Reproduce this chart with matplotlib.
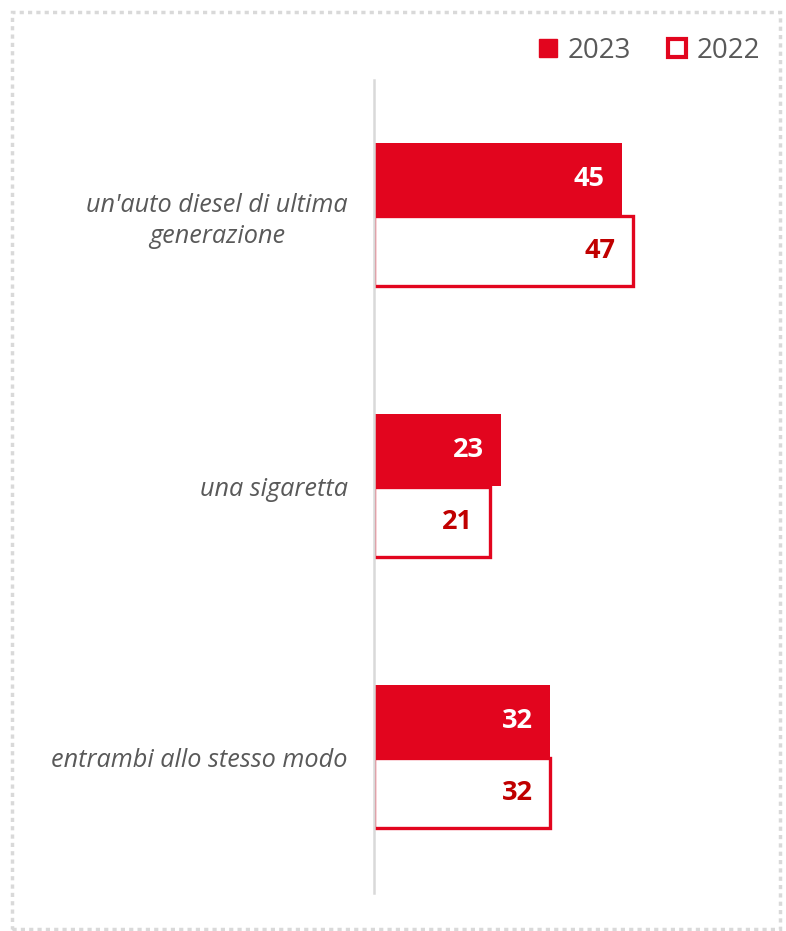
import matplotlib.pyplot as plt
from matplotlib.patches import Rectangle
from matplotlib.lines import Line2D

categories = ["un'auto diesel di ultima\ngenerazione", "una sigaretta", "entrambi allo stesso modo"]
vals_2023 = [45, 23, 32]
vals_2022 = [47, 21, 32]
series = ["2023", "2022"]

red = '#E2051E'
dark_red = '#C00000'
grey_txt = '#595959'

plt.rcParams['font.family'] = ['Open Sans', 'DejaVu Sans']

W, H = 786, 931
fig = plt.figure(figsize=(W / 100, H / 100), dpi=100)
ax = fig.add_axes([374 / W, 1 - 892.5 / H, 401.5 / W, 813 / H])

pos = list(range(len(categories)))
h = 0.266
ax.barh([p - h / 2 for p in pos], vals_2023, height=h, color=red, edgecolor='none')
ax.barh([p + h / 2 for p in pos], vals_2022, height=h - 0.01, color='white',
        edgecolor=red, linewidth=2.4)

for p, v in zip(pos, vals_2023):
    ax.annotate(str(v), (v, p - h / 2), xytext=(-12, 0), textcoords='offset points',
                ha='right', va='center', color='white', fontsize=19.5, fontweight='bold')
for p, v in zip(pos, vals_2022):
    ax.annotate(str(v), (v, p + h / 2), xytext=(-12, 0), textcoords='offset points',
                ha='right', va='center', color=dark_red, fontsize=19.5, fontweight='bold')

ax.set_xlim(0, 73)
ax.set_ylim(2.5, -0.5)
for s in ['top', 'right', 'bottom']:
    ax.spines[s].set_visible(False)
ax.spines['left'].set_color('#D9D9D9')
ax.spines['left'].set_linewidth(1.8)
ax.set_xticks([])
ax.set_yticks(pos)
ax.set_yticklabels(categories, fontsize=18.2, style='italic', color=grey_txt,
                   multialignment='center', linespacing=1.3)
ax.tick_params(axis='y', length=0, pad=19)

handles = [Line2D([], [], marker='s', linestyle='none', markersize=12.5,
                  markerfacecolor=red, markeredgecolor=red),
           Line2D([], [], marker='s', linestyle='none', markersize=13,
                  markerfacecolor='white', markeredgecolor=red, markeredgewidth=3)]
fig.legend(handles, series, loc='center right', bbox_to_anchor=(760 / W, 1 - 51 / H),
           ncol=2, frameon=False, fontsize=20, handlelength=0.7, handletextpad=0.35,
           columnspacing=1.3, labelcolor=grey_txt, borderpad=0, borderaxespad=0)

fig.patches.append(Rectangle((12 / W, 1 - 929 / H), 768 / W, 917 / H,
                             transform=fig.transFigure, fill=False,
                             edgecolor='#D9D9D9', linewidth=2.5, linestyle=(0, (1.2, 1.2))))

fig.savefig('out.png', dpi=100)
